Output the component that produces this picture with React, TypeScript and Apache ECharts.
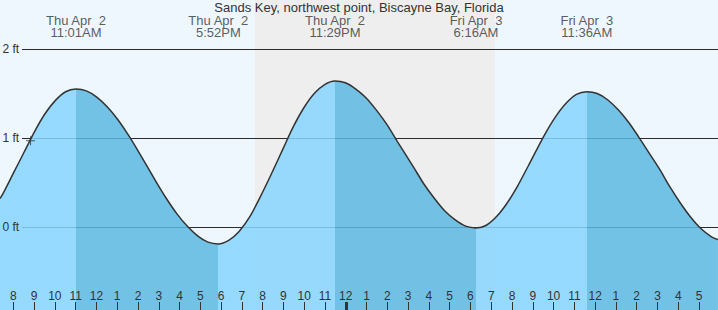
import React, { useEffect, useRef } from "react";
import * as echarts from "echarts";

// ---- data (hours from Thu Apr 2 00:00), heights in ft ----
const chartTitle = "Sands Key, northwest point, Biscayne Bay, Florida";
const tideTimes = [
  7.36, 7.517, 8.017, 8.517, 9.017, 9.517, 10.017, 10.517, 11.017,
  11.517, 12.017, 12.517, 13.017, 13.517, 14.017, 14.867, 15.367, 15.867, 16.367, 16.867, 17.367, 17.867,
  18.367, 18.867, 19.367, 19.867, 20.367, 20.983, 21.483, 21.983, 22.483, 22.983, 23.483,
  23.983, 24.483, 24.983, 25.483, 25.983, 26.483, 27.267, 27.767, 28.267, 28.767, 29.267, 29.767, 30.267,
  30.767, 31.267, 31.767, 32.267, 32.767, 33.1, 33.6, 34.1, 34.6, 35.1, 35.6,
  36.1, 36.6, 37.1, 37.6, 38.1, 38.6, 39.1, 39.6, 40.1, 40.6, 41.1, 41.6, 41.91,
];
const tideHeights = [
  0.32, 0.38, 0.61, 0.84, 1.07, 1.27, 1.42, 1.52, 1.55,
  1.53, 1.46, 1.35, 1.21, 1.04, 0.85, 0.51, 0.32, 0.15, 0.01, -0.1, -0.17, -0.19,
  -0.15, -0.05, 0.11, 0.33, 0.57, 0.88, 1.13, 1.34, 1.5, 1.6, 1.64,
  1.62, 1.55, 1.45, 1.31, 1.15, 0.96, 0.67, 0.48, 0.32, 0.18, 0.08, 0.01, -0.01,
  0.02, 0.12, 0.27, 0.46, 0.68, 0.83, 1.05, 1.24, 1.39, 1.49, 1.52,
  1.5, 1.43, 1.32, 1.18, 1.01, 0.83, 0.65, 0.45, 0.27, 0.11, -0.02, -0.11, -0.14,
];
const eventTimes = [11.017, 17.867, 23.483, 30.267, 35.6, 42.35];
const eventTypes = ["H", "L", "H", "L", "H", "L"];
const eventDays = ["Thu Apr  2", "Thu Apr  2", "Thu Apr  2", "Fri Apr  3", "Fri Apr  3", "Fri Apr  3"];
const eventClock = ["11:01AM", "5:52PM", "11:29PM", "6:16AM", "11:36AM", "6:21PM"];
const sunsetTime = 19.63;
const sunriseTime = 31.18;
const midnightTicks = [24];
const nowPoint = [8.83, 0.97];
const hourMin = 7;
const hourMax = 42;
const ftMin = -1;
const ftMax = 3;

const FONT = "'Liberation Sans', Arial, sans-serif";
const TXT = "#333333";
const DAY_BG = "#eef6fe";
const NIGHT_BG = "#eeeeee";
const RISING = "rgb(134,213,254)";
const FALLING = "rgb(92,185,226)";

export default function App() {
  const ref = useRef<HTMLDivElement>(null);

  useEffect(() => {
    if (!ref.current) return;
    const chart = echarts.init(ref.current, undefined, { renderer: "svg" });

    const pieces: any[] = [];
    let prevT: number | null = null;
    eventTimes.forEach((t, i) => {
      const color = eventTypes[i] === "H" ? RISING : FALLING;
      const p: any = { lt: t, color };
      if (prevT !== null) p.gte = prevT;
      pieces.push(p);
      prevT = t;
    });
    pieces.push({
      gte: prevT,
      color: eventTypes[eventTypes.length - 1] === "H" ? FALLING : RISING,
    });

    const noBounds = { outerBoundsMode: "none", containLabel: false };

    chart.setOption({
      animation: false,
      backgroundColor: DAY_BG,
      textStyle: { fontFamily: FONT },
      title: {
        text: chartTitle,
        left: "center",
        top: 1,
        padding: 0,
        textStyle: { fontSize: 13, fontWeight: "normal", color: TXT, fontFamily: FONT },
      },
      grid: [
        { left: -7.48, right: -1.82, top: -40, bottom: -6, ...noBounds },
        { left: 22, right: 0, top: -40, bottom: -6, ...noBounds },
        { left: -7.48, right: -1.82, top: 0, height: 52, ...noBounds },
      ],
      xAxis: [
        {
          type: "value",
          gridIndex: 0,
          position: "bottom",
          min: hourMin,
          max: hourMax,
          interval: 1,
          z: 3,
          axisLine: { show: false, onZero: false },
          splitLine: { show: false },
          axisTick: { show: true, inside: true, length: 14, lineStyle: { color: TXT, width: 1 } },
          axisLabel: {
            inside: true,
            margin: 14,
            fontSize: 12,
            color: TXT,
            fontFamily: FONT,
            formatter: (v: number) => {
              if (v < 8 || v >= 42) return "";
              const h = Math.round(v) % 12;
              return String(h === 0 ? 12 : h);
            },
          },
        },
        {
          type: "value",
          gridIndex: 0,
          position: "bottom",
          min: hourMin,
          max: hourMax,
          z: 3,
          axisLine: { show: false, onZero: false },
          splitLine: { show: false },
          axisLabel: { show: false },
          axisTick: {
            show: true,
            inside: true,
            length: 14,
            customValues: midnightTicks,
            lineStyle: { color: TXT, width: 3 },
          },
        },
        { type: "value", gridIndex: 1, min: 0, max: 1, show: false, axisLine: { onZero: false } },
        { type: "value", gridIndex: 2, min: hourMin, max: hourMax, show: false, axisLine: { onZero: false } },
      ],
      yAxis: [
        {
          type: "value",
          gridIndex: 0,
          min: ftMin,
          max: ftMax,
          interval: 1,
          z: 3,
          axisLine: { show: false, onZero: false },
          axisTick: { show: false },
          splitLine: { show: false },
          axisLabel: {
            inside: true,
            margin: 10,
            fontSize: 12,
            color: TXT,
            fontFamily: FONT,
            verticalAlign: "middle",
            formatter: (v: number) => (v < 0 || v > 2 ? "" : `${v} ft`),
          },
        },
        {
          type: "value",
          gridIndex: 1,
          min: ftMin,
          max: ftMax,
          interval: 1,
          z: 1.5,
          axisLine: { show: false, onZero: false },
          axisTick: { show: false },
          axisLabel: { show: false },
          splitLine: { show: true, lineStyle: { color: "#2b2b2b", width: 1 } },
        },
        { type: "value", gridIndex: 2, min: 0, max: 1, show: false, axisLine: { onZero: false } },
      ],
      visualMap: {
        type: "piecewise",
        show: false,
        dimension: 0,
        seriesIndex: 0,
        pieces,
      },
      series: [
        {
          type: "line",
          xAxisIndex: 0,
          yAxisIndex: 0,
          z: 2,
          smooth: 0.3,
          symbol: "none",
          data: tideTimes.map((t, i) => [t, tideHeights[i]]),
          lineStyle: { color: "#333333", width: 1.5 },
          areaStyle: { origin: "start", opacity: 0.85 },
          markArea: {
            silent: true,
            z: 1,
            itemStyle: { color: NIGHT_BG },
            data: [[{ xAxis: sunsetTime }, { xAxis: sunriseTime }]],
          },
        },
        {
          type: "scatter",
          xAxisIndex: 0,
          yAxisIndex: 0,
          z: 4,
          symbol: "path://M0,4H9V5H0ZM4,0H5V9H4Z",
          symbolSize: 9,
          itemStyle: { color: "#333333" },
          data: [nowPoint],
          silent: true,
        },
        {
          type: "scatter",
          xAxisIndex: 3,
          yAxisIndex: 2,
          z: 4,
          symbolSize: 0,
          silent: true,
          data: eventTimes.map((t) => [t, 0.5]),
          label: {
            show: true,
            position: "inside",
            fontSize: 13,
            lineHeight: 12,
            color: TXT,
            fontFamily: FONT,
            align: "center",
            formatter: (p: any) => `${eventDays[p.dataIndex]}\n${eventClock[p.dataIndex]}`,
          },
        },
      ],
    });

    return () => chart.dispose();
  }, []);

  return (
    <div
      ref={ref}
      style={{ position: "absolute", left: 0, top: 0, width: 718, height: 310 }}
    />
  );
}
